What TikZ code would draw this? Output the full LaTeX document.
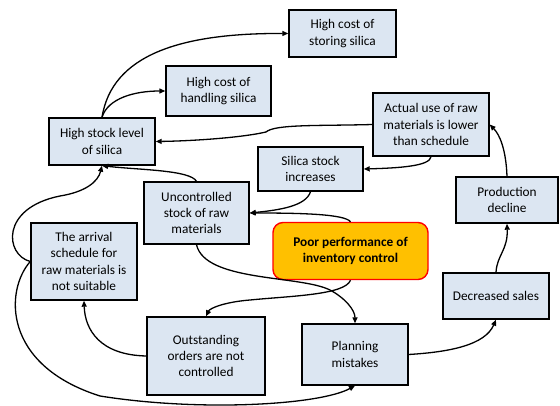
\documentclass[tikz,border=0pt]{standalone}
\usepackage{fontspec}
\setmainfont{Carlito}
\usetikzlibrary{arrows.meta}
\definecolor{boxfill}{HTML}{DCE6F2}
\definecolor{poorfill}{HTML}{FFC000}
\definecolor{poorline}{HTML}{FF0000}
\tikzset{
  box/.style={draw=black, line width=1.4pt, fill=boxfill, align=center, inner sep=2pt,
    font=\fontsize{13.3}{16.3}\selectfont},
  poorbox/.style={draw=poorline, line width=1.4pt, fill=poorfill, rounded corners=10pt, align=center,
    font=\fontsize{13.3}{16.3}\selectfont\bfseries},
  conn/.style={draw=black, line width=1.3pt, -{Triangle[length=6pt,width=5pt]}},
}
\begin{document}
\begin{tikzpicture}[x=1pt,y=-1pt]
\useasboundingbox (0,0) rectangle (560,406);
% nodes
\node[box, minimum width=107pt, minimum height=47pt] (storing) at (342.5,33.5) {High cost of\\storing silica};
\node[box, minimum width=105pt, minimum height=50pt] (handling) at (218.5,91) {High cost of\\handling silica};
\node[box, minimum width=106pt, minimum height=47pt] (highstock) at (102,141.5) {High stock level\\of silica};
\node[box, minimum width=116pt, minimum height=63pt] (actual) at (431,124.5) {Actual use of raw\\materials is lower\\than schedule};
\node[box, minimum width=105pt, minimum height=44pt] (silica) at (310.5,169) {Silica stock\\increases};
\node[box, minimum width=102pt, minimum height=46pt] (production) at (507,200) {Production\\decline};
\node[box, minimum width=105pt, minimum height=62pt] (uncontrolled) at (196.5,213) {Uncontrolled\\stock of raw\\materials};
\node[poorbox, minimum width=155pt, minimum height=57pt] (poor) at (350.5,251) {Poor performance of\\inventory control};
\node[box, minimum width=106pt, minimum height=77pt] (arrival) at (84,261.5) {The arrival\\schedule for\\raw materials is\\not suitable};
\node[box, minimum width=118pt, minimum height=78pt] (outstanding) at (206,356) {Outstanding\\orders are not\\controlled};
\node[box, minimum width=106pt, minimum height=61pt] (planning) at (355,354.5) {Planning\\mistakes};
\node[box, minimum width=106pt, minimum height=46pt] (decreased) at (496,296) {Decreased sales};
% connectors
\draw[conn] (highstock.north) .. controls (108,98) and (135,91) .. (handling.west);
\draw[conn] (highstock.north) .. controls (112,55) and (180,33) .. (storing.west);
\draw[conn] (actual.west) .. controls (320,126) and (275,124) .. (266,132) .. controls (240,138) and (190,141) .. (highstock.east);
\draw[conn] (actual.south) .. controls (430,166) and (400,168) .. (silica.east);
\draw[conn] (production.north) .. controls (506,150) and (500,135) .. (actual.east);
\draw[conn] (decreased.north) .. controls (497,255) and (508,250) .. (production.south);
\draw[conn] (planning.east) .. controls (450,352) and (485,345) .. (decreased.south);
\draw[conn] (silica.south) .. controls (306,206) and (280,210) .. (uncontrolled.east);
\draw[conn] (poor.north) .. controls (345,214) and (300,213) .. (uncontrolled.east);
\draw[conn] (uncontrolled.north) .. controls (190,170) and (140,170) .. (highstock.south);
\draw[conn] (arrival.west) .. controls (5,255) and (0,208) .. (60,196) .. controls (85,192) and (98,182) .. (highstock.south);
\draw[conn] (arrival.west) .. controls (5,290) and (2,365) .. (100,396) .. controls (200,412) and (320,405) .. (planning.south);
\draw[conn] (uncontrolled.south) .. controls (205,282) and (300,275) .. (330,290) .. controls (345,298) and (355,310) .. (planning.north);
\draw[conn] (poor.south) .. controls (345,295) and (290,296) .. (250,300) .. controls (225,302) and (210,308) .. (outstanding.north);
\draw[conn] (outstanding.west) .. controls (100,355) and (85,330) .. (arrival.south);
\end{tikzpicture}
\end{document}
